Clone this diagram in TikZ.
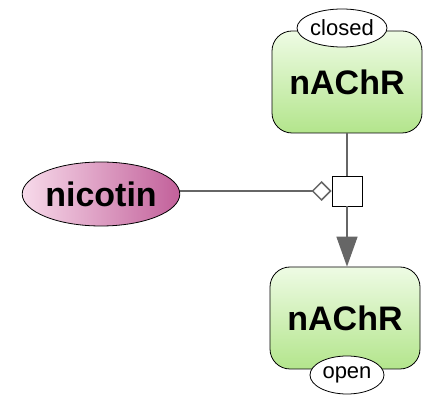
\documentclass[tikz,border=0pt]{standalone}
\usepackage{fontspec}
\setmainfont{Liberation Sans}
\usetikzlibrary{shapes.geometric,arrows.meta}
\definecolor{greenlight}{HTML}{EEFBE4}
\definecolor{greendark}{HTML}{B3E58C}
\definecolor{pinklight}{HTML}{F7DAEA}
\definecolor{pinkdark}{HTML}{C2609A}
\definecolor{arcgray}{HTML}{666666}
\begin{document}
\begin{tikzpicture}[x=1pt,y=-1pt,
    macro/.style={draw, thick, rectangle, rounded corners=20pt, inner sep=0pt,
      minimum width=150pt, minimum height=102pt, top color=greenlight, bottom color=greendark,
      font=\fontsize{34}{40}\selectfont\bfseries},
    simple/.style={draw, thick, ellipse, inner sep=0pt, minimum width=157pt, minimum height=64pt,
      left color=pinklight, right color=pinkdark, font=\fontsize{34}{40}\selectfont\bfseries},
    statevar/.style={draw, thick, ellipse, fill=white, inner sep=0pt, minimum height=38pt,
      font=\fontsize{22}{26}\selectfont},
    procnode/.style={draw, thick, rectangle, fill=white, inner sep=0pt, minimum size=30pt},
    arc/.style={draw=arcgray, line width=1.5pt}]
    \useasboundingbox (0,0) rectangle (437,403);

    % nAChR closed (top) and open (bottom)
    \node[macro] (closedR) at (347,82) {nAChR};
    \node[statevar, minimum width=90pt] (closedstate) at (342,28) {closed};
    \node[macro] (openR) at (345,318) {nAChR};
    \node[statevar, minimum width=74pt] (openstate) at (347,375) {open};

    % nicotin
    \node[simple] (nicotin) at (101,194) {nicotin};

    % process
    \node[procnode] (proc) at (347,191) {};

    % arcs
    \draw[arc] (closedR.south -| proc.north) -- (proc.north);
    \draw[arc, -{Triangle[length=30pt,width=21pt,fill=arcgray]}] (proc.south) -- (proc.south |- openR.north);
    \draw[arc, -{Diamond[open,length=20pt,width=20pt]}] (nicotin.east |- proc.west) -- (proc.west);
\end{tikzpicture}
\end{document}
